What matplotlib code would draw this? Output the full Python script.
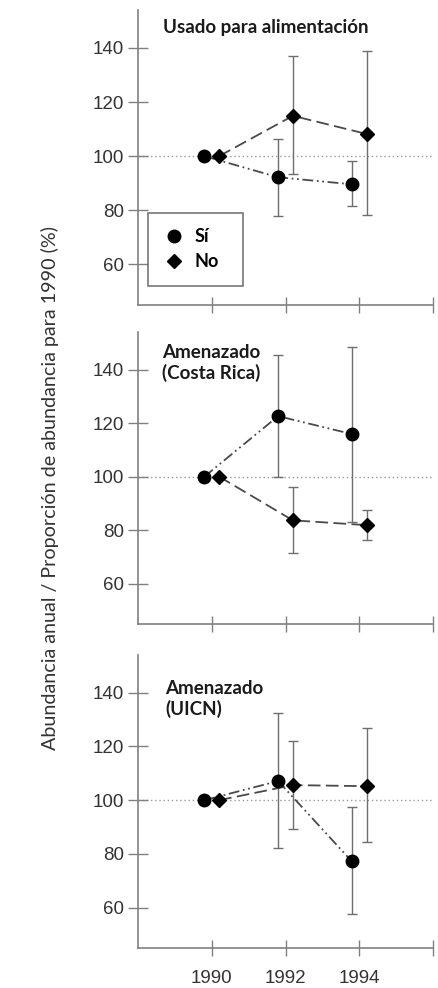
import numpy as np
import matplotlib.pyplot as plt

years = [1990, 1992, 1994]
titles = ["Usado para alimentación", "Amenazado\n(Costa Rica)", "Amenazado\n(UICN)"]

# Sí (circles)
si_mean = [[100, 92.2, 89.6], [100, 122.6, 115.9], [100, 107.1, 77.2]]
si_hi = [[100, 106.3, 98.1], [100, 145.6, 148.5], [100, 132.5, 97.4]]
si_lo = [[100, 77.7, 81.4], [100, 100.0, 83.0], [100, 82.1, 57.5]]
# No (diamonds)
no_mean = [[100, 114.9, 108.2], [100, 83.7, 81.9], [100, 105.6, 105.2]]
no_hi = [[100, 136.9, 138.7], [100, 96.3, 87.4], [100, 121.9, 126.8]]
no_lo = [[100, 93.3, 78.4], [100, 71.5, 76.3], [100, 89.2, 84.3]]

fig = plt.figure(figsize=(4.39, 9.88), dpi=100)
W, H = 439, 988
left, right = 138, 433
frames = [(10, 305), (332, 624), (655, 948)]
title_pos = [(0.085, 0.969), (0.081, 0.959), (0.092, 0.915)]

line_c = '#4a4a4a'
err_c = '#6e6e6e'
axis_c = '#808080'
off = 0.2

for i, (top, bot) in enumerate(frames):
    ax = fig.add_axes([left / W, 1 - bot / H, (right - left) / W, (bot - top) / H])
    xs = np.array(years, dtype=float)
    ax.axhline(100, color='#9a9a9a', lw=1.0, ls=(0, (1, 2)), zorder=1)

    sm, sh, sl = map(np.array, (si_mean[i], si_hi[i], si_lo[i]))
    nm, nh, nl = map(np.array, (no_mean[i], no_hi[i], no_lo[i]))

    ax.errorbar(xs[1:] - off, sm[1:], yerr=[sm[1:] - sl[1:], sh[1:] - sm[1:]],
                fmt='none', ecolor=err_c, elinewidth=1.0, capsize=3.8, capthick=1.0, zorder=2)
    ax.errorbar(xs[1:] + off, nm[1:], yerr=[nm[1:] - nl[1:], nh[1:] - nm[1:]],
                fmt='none', ecolor=err_c, elinewidth=1.0, capsize=3.8, capthick=1.0, zorder=2)

    ax.plot(xs - off, sm, color=line_c, lw=1.3, ls=(0, (6, 2, 1, 2, 1, 2)), zorder=3)
    ax.plot(xs + off, nm, color=line_c, lw=1.3, ls=(0, (7, 3)), zorder=3)
    ax.plot(xs - off, sm, 'o', color='black', ms=9, zorder=4, label='Sí')
    ax.plot(xs + off, nm, 'D', color='black', ms=7.5, zorder=4, label='No')

    ax.set_xlim(1988, 1996)
    ax.set_ylim(45, 154)
    ax.set_xticks([1990, 1992, 1994, 1996])
    ax.set_yticks([60, 80, 100, 120, 140])
    for s in ('top', 'right'):
        ax.spines[s].set_visible(False)
    for s in ('left', 'bottom'):
        ax.spines[s].set_color(axis_c)
        ax.spines[s].set_linewidth(1.2)
    ax.tick_params(axis='y', direction='inout', length=14, width=1.0, color=axis_c,
                   labelsize=13.5, labelcolor='#333333', pad=3)
    ax.tick_params(axis='x', direction='inout', length=12, width=1.0, color=axis_c,
                   labelsize=13.5, labelcolor='#333333', pad=10)
    for lab in ax.get_yticklabels() + ax.get_xticklabels():
        lab.set_family('Liberation Sans')
    if i < 2:
        ax.set_xticklabels([])
    else:
        ax.set_xticklabels(['1990', '1992', '1994', ''])

    ax.text(title_pos[i][0], title_pos[i][1], titles[i], transform=ax.transAxes,
            ha='left', va='top', fontsize=13.5, fontweight='bold', family='Lato',
            color='#1a1a1a', linespacing=1.2)

    if i == 0:
        leg = ax.legend(loc='upper left',
                        bbox_to_anchor=((148 - left) / (right - left), (bot - 213) / (bot - top),
                                        (243 - 148) / (right - left), 0.0),
                        mode='expand', borderaxespad=0, frameon=True, fancybox=False,
                        borderpad=0.85, handlelength=1.2, handletextpad=0.5, labelspacing=0.45,
                        prop={'family': 'Lato', 'weight': 'bold', 'size': 13})
        leg.get_frame().set_edgecolor('#555555')
        leg.get_frame().set_linewidth(1.2)

fig.text(50 / W, 1 - 488 / H, "Abundancia anual / Proporción de abundancia para 1990 (%)",
         rotation=90, ha='center', va='center', fontsize=14.2, family='Lato', color='#333333')

fig.savefig('out.png', dpi=100)
